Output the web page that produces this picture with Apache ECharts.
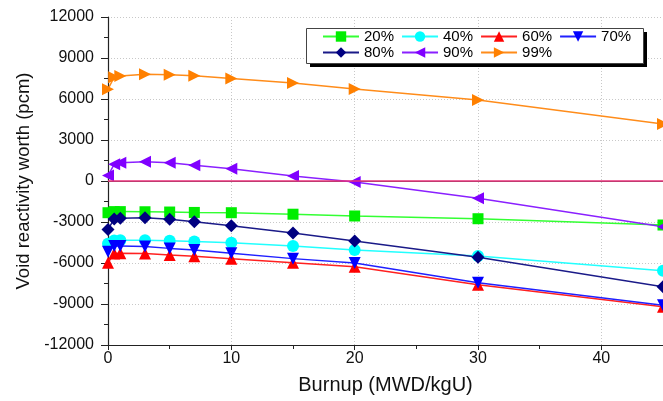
<!DOCTYPE html>
<html><head><meta charset="utf-8">
<script src="https://cdn.jsdelivr.net/npm/echarts@6/dist/echarts.min.js"></script>
<style>html,body{margin:0;padding:0;background:#fff}#c{width:663px;height:401px}</style>
</head><body><div id="c"></div>
<script>
var burnup = [0, 0.5, 1, 3, 5, 7, 10, 15, 20, 30, 45];
var v20 = [-2320, -2240, -2240, -2250, -2270, -2300, -2320, -2430, -2560, -2760, -3220];
var v40 = [-4600, -4350, -4330, -4340, -4380, -4420, -4520, -4760, -5050, -5480, -6560];
var v60 = [-5980, -5300, -5290, -5300, -5420, -5500, -5680, -5980, -6270, -7600, -9200];
var v70 = [-5170, -4760, -4760, -4800, -4930, -5050, -5290, -5680, -6000, -7440, -9100];
var v80 = [-3540, -2780, -2730, -2680, -2800, -2980, -3270, -3800, -4390, -5580, -7730];
var v90 = [400, 1220, 1340, 1410, 1340, 1150, 900, 370, -70, -1260, -3340];
var v99 = [6720, 7590, 7680, 7810, 7780, 7700, 7500, 7170, 6730, 5930, 4170];
var yTicks = [-12000, -9000, -6000, -3000, 0, 3000, 6000, 9000, 12000];
var xTicks = [0, 10, 20, 30, 40];

var defs = [
  {name: '20%', data: v20, color: '#00ee00', line: '#33ff33', symbol: 'rect', rot: 0, size: 11},
  {name: '40%', data: v40, color: '#00ffff', line: '#22ffff', symbol: 'circle', rot: 0, size: 12},
  {name: '60%', data: v60, color: '#ff0000', line: '#ff2020', symbol: 'triangle', rot: 0, size: 12},
  {name: '70%', data: v70, color: '#0000ff', line: '#2020ff', symbol: 'triangle', rot: 180, size: 12},
  {name: '80%', data: v80, color: '#000080', line: '#1a1a88', symbol: 'diamond', rot: 0, size: 13},
  {name: '90%', data: v90, color: '#8000ff', line: '#8a20ff', symbol: 'triangle', rot: 90, size: 12},
  {name: '99%', data: v99, color: '#ff8000', line: '#ff8c1a', symbol: 'triangle', rot: -90, size: 12}
];
var font = '"Liberation Sans", Arial, sans-serif';
var series = defs.map(function (d) {
  return {
    name: d.name, type: 'line', symbol: d.symbol, symbolRotate: d.rot, symbolSize: d.size,
    data: burnup.map(function (x, i) { return [x, d.data[i]]; }),
    itemStyle: {color: d.color},
    lineStyle: {color: d.line, width: 1.5},
    z: 3
  };
});
series[0].markLine = {
  silent: true, symbol: 'none', label: {show: false},
  lineStyle: {color: '#e8307a', type: 'solid', width: 1.5},
  data: [{yAxis: 0}]
};

var legendCommon = {
  orient: 'horizontal', itemWidth: 36, itemHeight: 13, itemGap: 7,
  textStyle: {fontFamily: font, fontSize: 15, color: '#000'},
  backgroundColor: 'transparent', padding: 0, z: 10
};

var option = {
  animation: false,
  backgroundColor: '#fff',
  grid: {left: 108, right: -2, top: 17, bottom: 56},
  graphic: [
    {type: 'rect', left: 310, top: 32, shape: {width: 337, height: 35}, style: {fill: '#000'}, z: 5},
    {type: 'rect', left: 306, top: 28, shape: {width: 337, height: 35}, style: {fill: '#fff', stroke: '#444', lineWidth: 1}, z: 6}
  ],
  legend: [
    Object.assign({}, legendCommon, {left: 322, top: 29, data: ['20%', '40%', '60%', '70%']}),
    Object.assign({}, legendCommon, {left: 322, top: 45, data: ['80%', '90%', '99%']})
  ],
  xAxis: [{
    type: 'value', min: 0, max: 45, interval: 10,
    name: 'Burnup (MWD/kgU)', nameLocation: 'middle', nameGap: 30,
    nameTextStyle: {fontFamily: font, fontSize: 20, color: '#111'},
    axisLine: {show: true, onZero: false, lineStyle: {color: '#222', width: 1.2}},
    axisTick: {show: true, inside: false, length: 5, lineStyle: {color: '#222'}},
    minorTick: {show: true, splitNumber: 2, length: 4, lineStyle: {color: '#222'}},
    axisLabel: {fontFamily: font, fontSize: 16, color: '#111', margin: 6, showMaxLabel: false},
    splitLine: {show: true, lineStyle: {color: '#c8c8c8', type: [1, 2], width: 1}}
  }, {
    type: 'value', position: 'top', min: 0, max: 45,
    axisLine: {show: true, lineStyle: {color: '#555', width: 1.2}},
    axisTick: {show: false}, axisLabel: {show: false}, splitLine: {show: false}
  }],
  yAxis: {
    type: 'value', min: -12000, max: 12000, interval: 3000,
    name: 'Void reactivity worth (pcm)', nameLocation: 'middle', nameGap: 70,
    nameTextStyle: {fontFamily: font, fontSize: 18.5, color: '#111'},
    axisLine: {show: true, onZero: false, lineStyle: {color: '#222', width: 1.2}},
    axisTick: {show: true, inside: false, length: 7, lineStyle: {color: '#222'}},
    minorTick: {show: true, splitNumber: 2, length: 4, lineStyle: {color: '#222'}},
    axisLabel: {fontFamily: font, fontSize: 16, color: '#111', margin: 14,
      formatter: function (v) { return String(v); }},
    splitLine: {show: true, lineStyle: {color: '#c8c8c8', type: [1, 2], width: 1}}
  },
  series: series
};
var chart = echarts.init(document.getElementById('c'), null, {renderer: 'canvas'});
chart.setOption(option);
</script></body></html>
